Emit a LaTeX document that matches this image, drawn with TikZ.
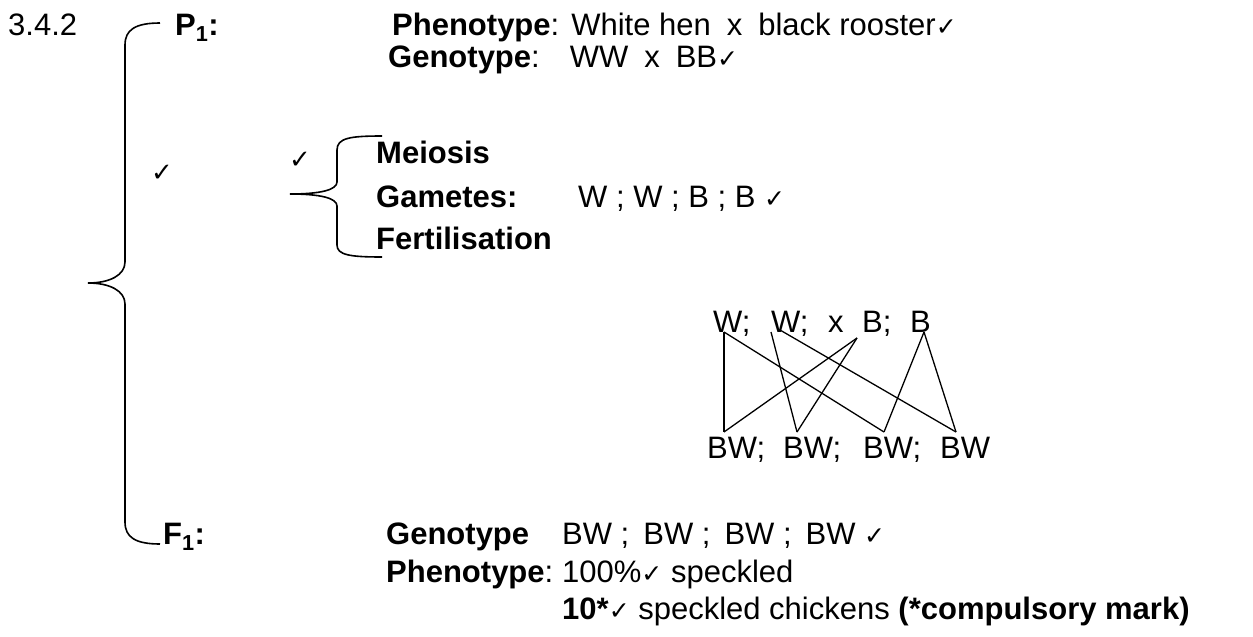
\documentclass[tikz,border=0pt]{standalone}
\usepackage{fontspec}
\setmainfont{Liberation Sans}
\newfontfamily\dejavu{DejaVu Sans}
\newcommand{\ckm}{{\dejavu\fontsize{25}{25}\selectfont ✓}}
\begin{document}
\begin{tikzpicture}[x=1pt,y=-1pt,
  txt/.style={anchor=base west,inner sep=0pt,font=\fontsize{31}{36}\selectfont},
  crosstxt/.style={anchor=base west,inner sep=0pt,font=\fontsize{31}{36}\selectfont},
  bigck/.style={inner sep=0pt,font=\dejavu\fontsize{26}{26}\selectfont},
  brace/.style={line width=1.6pt},
  link/.style={line width=1.3pt}]
\useasboundingbox (0,0) rectangle (1253,637);
% headings
\node[txt] (num) at (8,35) {3.4.2};
\node[txt] (p1) at (175,35) {\textbf{P\textsubscript{1}:}};
\node[txt] (ph1) at (392,35) {\textbf{Phenotype}:\hspace{12pt}White hen\hspace{16pt}x\hspace{16pt}black rooster\ckm};
\node[txt] (ge1) at (388,67) {\textbf{Genotype}:\hspace{30pt}WW\hspace{16pt}x\hspace{16pt}BB\ckm};
% meiosis block
\node[txt] (mei) at (376,163) {\textbf{Meiosis}};
\node[txt] (gam) at (376,207) {\textbf{Gametes:}};
\node[txt] (gamv) at (578,207) {W ; W ; B ; B \ckm};
\node[txt] (fer) at (376,249) {\textbf{Fertilisation}};
\node[bigck] (ck1) at (162,173) {✓};
\node[bigck] (ck2) at (300,160) {✓};
% braces
\draw[brace] (160,23) .. controls (135,23) and (125,30) .. (125,45) -- (125,262)
  .. controls (125,275) and (110,283) .. (88,283)
  .. controls (110,283) and (125,291) .. (125,304) -- (125,522)
  .. controls (125,537) and (135,544) .. (160,544);
\draw[brace] (382,136) .. controls (350,136) and (337,138) .. (337,150) -- (337,182)
  .. controls (337,190) and (320,194) .. (290,194)
  .. controls (320,194) and (337,198) .. (337,206) -- (337,245)
  .. controls (337,255) and (350,257) .. (382,257);
% cross
\node[crosstxt] (w1) at (713,332) {W;};
\node[crosstxt] (w2) at (771,332) {W;};
\node[crosstxt] (xx) at (828,332) {x};
\node[crosstxt] (b1) at (862,332) {B;};
\node[crosstxt] (b2) at (910,332) {B};
\node[crosstxt] (bw1) at (707,458) {BW;};
\node[crosstxt] (bw2) at (783,458) {BW;};
\node[crosstxt] (bw3) at (863,458) {BW;};
\node[crosstxt] (bw4) at (940,458) {BW};
\coordinate (t1) at ([xshift=11pt]w1.base west);
\coordinate (t2a) at ([xshift=0pt]w2.base west);
\coordinate (t2b) at ([xshift=9pt,yshift=2pt]w2.base west);
\coordinate (t3) at ([xshift=-5pt,yshift=-6pt]b1.base west);
\coordinate (t4) at ([xshift=14pt]b2.base west);
\coordinate (e1) at ([xshift=17pt,yshift=26pt]bw1.base west);
\coordinate (e2) at ([xshift=14pt,yshift=26pt]bw2.base west);
\coordinate (e3) at ([xshift=21pt,yshift=26pt]bw3.base west);
\coordinate (e4) at ([xshift=16pt,yshift=26pt]bw4.base west);
\draw[link] (t1) -- (e1);
\draw[link] (t1) -- (e3);
\draw[link] (t2a) -- (e2);
\draw[link] (t2b) -- (e4);
\draw[link] (t3) -- (e1);
\draw[link] (t3) -- (e2);
\draw[link] (t4) -- (e3);
\draw[link] (t4) -- (e4);
% F1
\node[txt] (f1) at (163,544) {\textbf{F\textsubscript{1}:}};
\node[txt] (ge2) at (386,544) {\textbf{Genotype}};
\node[txt] (ge2v) at (562,544) {BW ;\hspace{14pt}BW ;\hspace{14pt}BW ;\hspace{14pt}BW \ckm};
\node[txt] (ph2) at (386,582) {\textbf{Phenotype}:};
\node[txt] (ph2v) at (562,582) {100\%\ckm{} speckled};
\node[txt] (ten) at (562,619) {\textbf{10*}\ckm{} speckled chickens \textbf{(*compulsory mark)}};
\end{tikzpicture}
\end{document}
